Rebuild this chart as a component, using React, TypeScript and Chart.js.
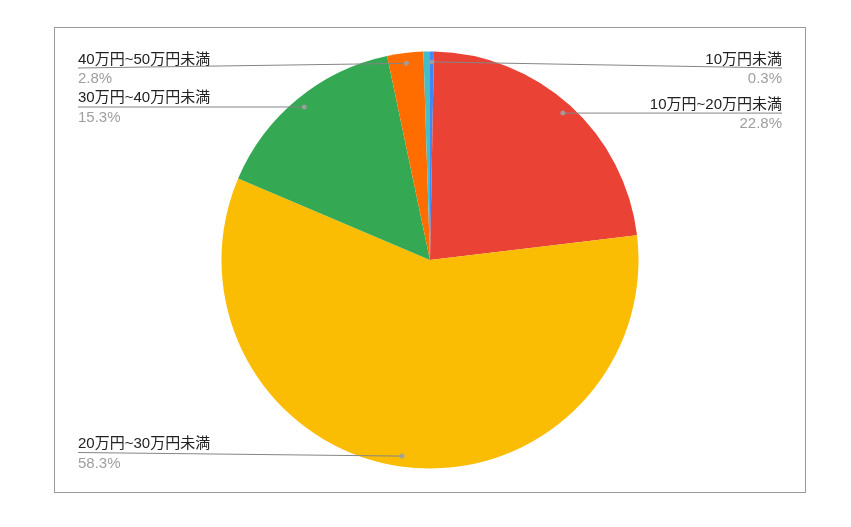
import React, { useEffect, useRef } from "react";
import { Chart, registerables } from "chart.js";

Chart.register(...registerables);

const categories = [
  "10万円未満",
  "10万円~20万円未満",
  "20万円~30万円未満",
  "30万円~40万円未満",
  "40万円~50万円未満",
  "50万円以上",
];
const values = [0.3, 22.8, 58.3, 15.3, 2.8, 0.5];
const colors = ["#4285f4", "#ea4335", "#fbbc04", "#34a853", "#ff6d01", "#46bdc6"];
const hiddenLabels = ["50万円以上"];

const FONT = '"Liberation Sans", Arial, "Noto Sans CJK JP", sans-serif';

const labelPlugin = {
  id: "sideLabels",
  afterDraw(chart: any) {
    const ctx = chart.ctx as CanvasRenderingContext2D;
    const meta = chart.getDatasetMeta(0);
    const W = chart.width;
    const total = values.reduce((a, b) => a + b, 0);
    const leftX = 23;
    const rightX = W - 23;
    const minY = 40;
    const maxY = 424.5;
    ctx.save();
    meta.data.forEach((arc: any, i: number) => {
      if (hiddenLabels.includes(categories[i])) return;
      const { x, y, startAngle, endAngle, outerRadius } = arc.getProps(
        ["x", "y", "startAngle", "endAngle", "outerRadius"],
        true
      );
      const mid = (startAngle + endAngle) / 2;
      const dx = x + Math.cos(mid) * outerRadius * 0.95;
      const dy = y + Math.sin(mid) * outerRadius * 0.95;
      const left = dx < x;
      const lx = left ? leftX : rightX;
      const ly = Math.min(maxY, Math.max(minY, dy));
      // leader line
      ctx.beginPath();
      ctx.strokeStyle = "#858585";
      ctx.lineWidth = 1;
      ctx.moveTo(lx, ly);
      ctx.lineTo(dx, dy);
      ctx.stroke();
      // dot
      ctx.beginPath();
      ctx.fillStyle = "rgba(160,160,160,0.9)";
      ctx.arc(dx, dy, 2.5, 0, Math.PI * 2);
      ctx.fill();
      // text
      ctx.textAlign = left ? "left" : "right";
      ctx.textBaseline = "alphabetic";
      ctx.font = `15px ${FONT}`;
      ctx.fillStyle = "#222222";
      ctx.fillText(categories[i], lx, ly - 4.5);
      ctx.fillStyle = "#9e9e9e";
      const pct = ((values[i] / total) * 100).toFixed(1) + "%";
      ctx.fillText(pct, lx, ly + 15);
    });
    ctx.restore();
  },
};

export default function App() {
  const ref = useRef<HTMLCanvasElement>(null);
  useEffect(() => {
    if (!ref.current) return;
    const chart = new Chart(ref.current, {
      type: "pie",
      data: {
        labels: categories,
        datasets: [
          {
            data: values,
            backgroundColor: colors,
            borderWidth: 0,
          },
        ],
      },
      options: {
        animation: false,
        responsive: false,
        maintainAspectRatio: false,
        layout: { padding: { top: 23.5, bottom: 23.5 } },
        plugins: {
          legend: { display: false },
          tooltip: { enabled: false },
        },
      },
      plugins: [labelPlugin],
    });
    return () => chart.destroy();
  }, []);

  return (
    <div
      style={{
        position: "fixed",
        left: 0,
        top: 0,
        width: 851,
        height: 527,
        background: "#fff",
      }}
    >
      <div
        style={{
          position: "absolute",
          left: 54,
          top: 27,
          width: 750,
          height: 464,
          border: "1px solid #9a9a9a",
        }}
      >
        <canvas ref={ref} width={750} height={464} style={{ display: "block" }} />
      </div>
    </div>
  );
}
